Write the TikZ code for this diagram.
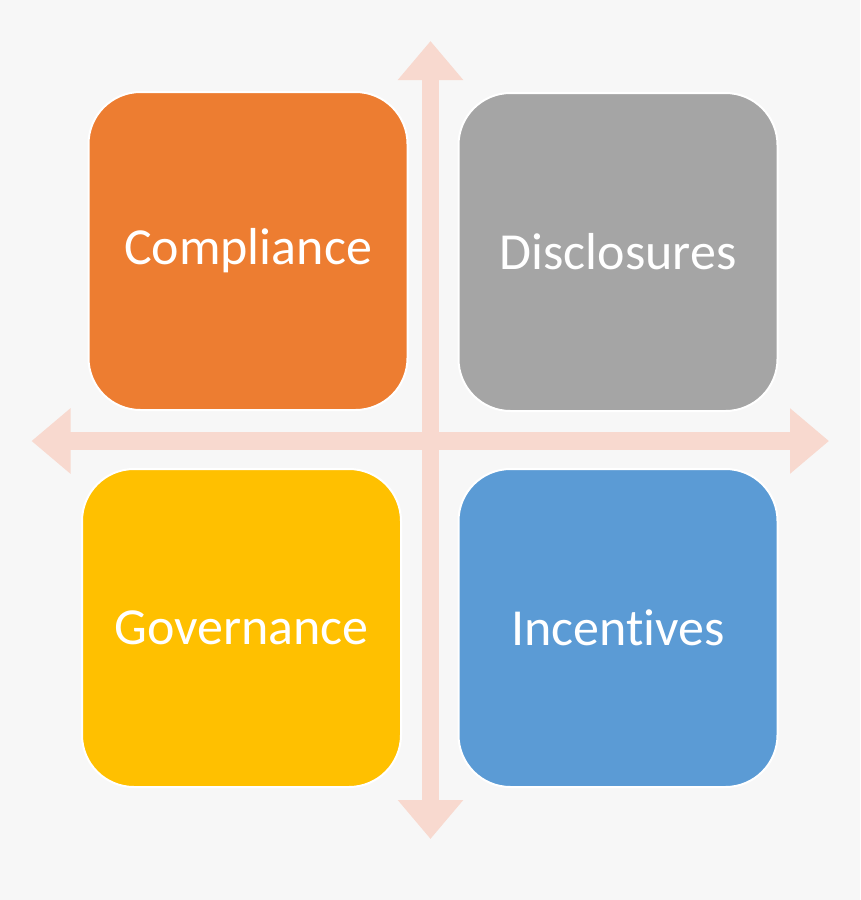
\documentclass[tikz,border=0pt]{standalone}
\usepackage{fontspec}
\setmainfont{Carlito}[Ligatures=NoCommon]
\usetikzlibrary{arrows.meta}
\definecolor{bgcol}{HTML}{F7F7F7}
\definecolor{axiscol}{HTML}{F8D9CF}
\definecolor{compcol}{HTML}{ED7D31}
\definecolor{disccol}{HTML}{A5A5A5}
\definecolor{govcol}{HTML}{FFC000}
\definecolor{inccol}{HTML}{5B9BD5}

\begin{document}
\begin{tikzpicture}[x=1pt,y=-1pt,
        quadbox/.style={draw=white, line width=2pt, rounded corners=52pt,
            minimum width=319pt, minimum height=318pt, text=white,
            font=\fontsize{52}{62}\selectfont},
        axisarrow/.style={draw=axiscol, line width=17.5pt,
            {Triangle[length=39pt,width=63pt]}-{Triangle[length=39pt,width=63pt]}}]
        % Background
        \fill[bgcol] (0,0) rectangle (860,900);
        % Ends of the two axes
        \coordinate (top) at (430.5,41);
        \coordinate (bottom) at (430.5,839);
        \coordinate (left) at (31.5,441);
        \coordinate (right) at (829,441);
        % Draw the axes
        \draw[axisarrow] (left) -- (right);
        \draw[axisarrow] (top) -- (bottom);
        % Draw the four boxes
        \foreach \name/\col/\x/\y/\txt in {comp/compcol/248/251/Compliance,
                disc/disccol/618/252/Disclosures,
                gov/govcol/241.5/628/Governance,
                inc/inccol/618/628/Incentives} {
            \node[quadbox, fill=\col] (\name) at (\x,\y) {\txt};
        }
\end{tikzpicture}
\end{document}
